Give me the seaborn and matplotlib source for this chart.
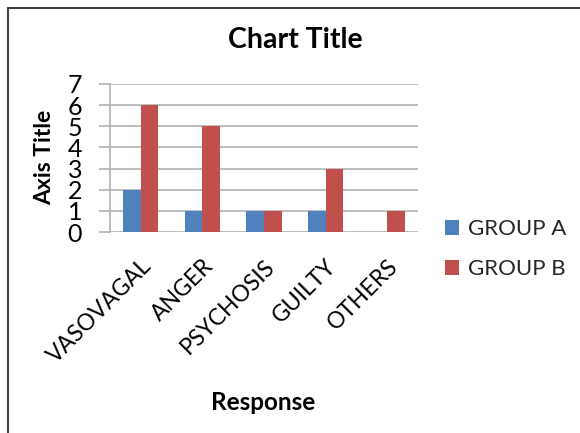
import matplotlib
matplotlib.use("Agg")
import matplotlib.pyplot as plt
import matplotlib.lines as mlines
import matplotlib.patches as mpatches
import seaborn as sns
import pandas as pd

categories = ["VASOVAGAL", "ANGER", "PSYCHOSIS", "GUILTY", "OTHERS"]
group_a = [2, 1, 1, 1, 0]
group_b = [6, 5, 1, 3, 1]
series_names = ["GROUP A", "GROUP B"]
y_ticks = [0, 1, 2, 3, 4, 5, 6, 7]

colors = ["#4F81BD", "#C0504D"]

df = pd.DataFrame({
    "Response": categories * 2,
    "Value": group_a + group_b,
    "Group": [series_names[0]] * len(categories) + [series_names[1]] * len(categories),
})

sns.set_theme(style="white")
plt.rcParams["font.family"] = ["Lato", "DejaVu Sans"]

W, H = 580, 433
fig = plt.figure(figsize=(W / 100, H / 100), dpi=100)
ax = fig.add_axes([110 / W, 1 - 232 / H, (418 - 110) / W, (232 - 84) / H])

sns.barplot(data=df, x="Response", y="Value", hue="Group", palette=colors,
            width=0.57, gap=0, ax=ax, legend=False, saturation=1,
            linewidth=0, edgecolor="none")

ax.set_xlim(-0.5, len(categories) - 0.5)
ax.set_ylim(0, 7)
ax.set_yticks(y_ticks)
ax.set_yticklabels([str(t) for t in y_ticks], fontsize=18, color="black")
ax.yaxis.grid(True, color="#b3b3b3", linewidth=1.2)
ax.set_axisbelow(True)
for side in ["top", "right", "bottom"]:
    ax.spines[side].set_visible(False)
ax.spines["left"].set_color("#b3b3b3")
ax.spines["left"].set_linewidth(1.2)
ax.tick_params(axis="y", which="major", length=8, width=1.2, color="#b3b3b3",
               direction="out", pad=12, left=True)
ax.tick_params(axis="x", length=0, pad=17)
ax.set_xticks(range(len(categories)))
ax.set_xticklabels(categories, rotation=45, ha="right", rotation_mode="anchor",
                   fontsize=16.5, color="black")
ax.set_xlabel("")
ax.set_ylabel("")

fig.text(295 / W, 1 - 40 / H, "Chart Title", ha="center", va="center",
         fontsize=20.5, fontweight="bold", color="black")
fig.text(263 / W, 1 - 403 / H, "Response", ha="center", va="center",
         fontsize=17.5, fontweight="bold", color="black")
fig.text(45 / W, 1 - 157 / H, "Axis Title", ha="center", va="center",
         rotation=90, fontsize=16.5, fontweight="bold", color="black")

handles = [mpatches.Patch(facecolor=c, edgecolor="none", label=n)
           for c, n in zip(colors, series_names)]
fig.legend(handles=handles, loc="center left",
           bbox_to_anchor=(445 / W, 1 - 249 / H), frameon=False,
           borderaxespad=0, fontsize=16, handlelength=0.65, handleheight=0.65,
           handletextpad=0.4, labelspacing=0.9, borderpad=0)

# chart-area frame along the top and left edges
fig.add_artist(mlines.Line2D([7.5 / W, 1], [1 - 8 / H, 1 - 8 / H],
                             transform=fig.transFigure, color="#404040", linewidth=1.5))
fig.add_artist(mlines.Line2D([7.5 / W, 7.5 / W], [0, 1 - 8 / H],
                             transform=fig.transFigure, color="#404040", linewidth=1.5))

fig.savefig("out.png", dpi=100, facecolor="white")
